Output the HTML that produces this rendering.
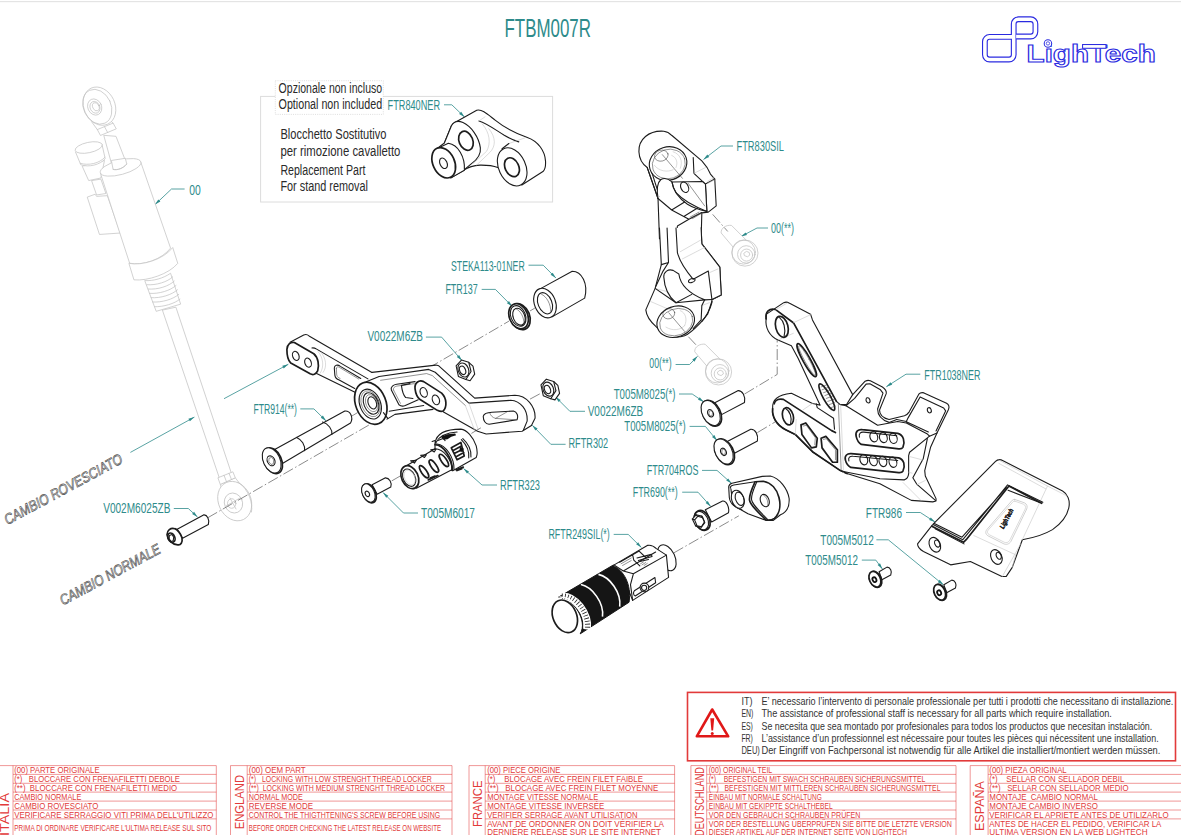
<!DOCTYPE html>
<html><head><meta charset="utf-8"><title>FTBM007R</title>
<style>
html,body{margin:0;padding:0;background:#fff;overflow:hidden}
body{width:1181px;height:835px;font-family:"Liberation Sans",sans-serif}
svg{display:block;font-family:"Liberation Sans",sans-serif}
.k{fill:none;stroke:#1c1c1c;stroke-width:1.1;stroke-linecap:round;stroke-linejoin:round}
.kw{fill:#fff;stroke:#1c1c1c;stroke-width:1.1;stroke-linecap:round;stroke-linejoin:round}
.t{fill:none;stroke:#3a3a3a;stroke-width:0.55;stroke-linecap:round;stroke-linejoin:round}
.tw{fill:#fff;stroke:#3a3a3a;stroke-width:0.55;stroke-linejoin:round}
.g{fill:none;stroke:#c2c2c2;stroke-width:0.75;stroke-linecap:round;stroke-linejoin:round}
.gw{fill:#fff;stroke:#c2c2c2;stroke-width:0.75;stroke-linejoin:round}
.ax{fill:none;stroke:#3c3c3c;stroke-width:0.6;stroke-dasharray:11 2.5 1.5 2.5}
.p *{vector-effect:non-scaling-stroke}
.k2{fill:none;stroke:#1c1c1c;stroke-width:1.7;stroke-linecap:round;stroke-linejoin:round}
.k2w{fill:#fff;stroke:#1c1c1c;stroke-width:1.7;stroke-linejoin:round}
.lg{fill:none;stroke:#c4c4c4;stroke-width:0.6;stroke-linecap:round}
</style></head>
<body>
<svg width="1181" height="835" viewBox="0 0 1181 835">
<rect x="0" y="1" width="1181" height="1.2" fill="#e4e4e4"/>
<text x="504.5" y="37.0" font-size="26.5" fill="#2e8b8b" textLength="86.5" lengthAdjust="spacingAndGlyphs" >FTBM007R</text>
<rect x="260.6" y="96.4" width="292" height="105.6" fill="none" stroke="#dcdcdc" stroke-width="1"/>
<rect x="275.3" y="80.7" width="108" height="33.7" fill="#fff" stroke="#c8c8c8" stroke-width="0.6" stroke-dasharray="1 1.2"/>
<text x="278.6" y="93.4" font-size="14" fill="#2a2a2a" textLength="103.5" lengthAdjust="spacingAndGlyphs" >Opzionale non incluso</text>
<text x="278.6" y="108.6" font-size="14" fill="#2a2a2a" textLength="103.5" lengthAdjust="spacingAndGlyphs" >Optional non included</text>
<text x="280.4" y="139.0" font-size="14" fill="#2a2a2a" textLength="106.0" lengthAdjust="spacingAndGlyphs" >Blocchetto Sostitutivo</text>
<text x="280.4" y="155.9" font-size="14" fill="#2a2a2a" textLength="120.0" lengthAdjust="spacingAndGlyphs" >per rimozione cavalletto</text>
<text x="280.4" y="175.4" font-size="14" fill="#2a2a2a" textLength="85.0" lengthAdjust="spacingAndGlyphs" >Replacement Part</text>
<text x="280.4" y="191.4" font-size="14" fill="#2a2a2a" textLength="87.6" lengthAdjust="spacingAndGlyphs" >For stand removal</text>
<text x="387.6" y="109.9" font-size="14" fill="#2e8b8b" textLength="52.4" lengthAdjust="spacingAndGlyphs" >FTR840NER</text>
<path d="M444.0 104.8H451.8L464.5 117.0" fill="none" stroke="#2e8b8b" stroke-width="0.8"/>
<path d="M464.5 117.0L459.1 113.9L461.2 111.8Z" fill="#2e8b8b"/>
<text x="189.3" y="194.6" font-size="14" fill="#2e8b8b" textLength="11.5" lengthAdjust="spacingAndGlyphs" >00</text>
<path d="M184.6 189.0H171.5L155.0 204.6" fill="none" stroke="#2e8b8b" stroke-width="0.8"/>
<path d="M155.0 204.6L158.3 199.4L160.4 201.6Z" fill="#2e8b8b"/>
<text x="736.5" y="151.0" font-size="14" fill="#2e8b8b" textLength="47.5" lengthAdjust="spacingAndGlyphs" >FTR830SIL</text>
<path d="M733.0 146.0H721.0L703.5 159.5" fill="none" stroke="#2e8b8b" stroke-width="0.8"/>
<path d="M703.5 159.5L707.3 154.6L709.2 157.0Z" fill="#2e8b8b"/>
<text x="771.0" y="233.0" font-size="14" fill="#2e8b8b" textLength="23.0" lengthAdjust="spacingAndGlyphs" >00(**)</text>
<path d="M768.0 228.0H757.0L741.0 236.5" fill="none" stroke="#2e8b8b" stroke-width="0.8"/>
<path d="M741.0 236.5L745.6 232.4L747.0 235.0Z" fill="#2e8b8b"/>
<text x="451.0" y="270.8" font-size="14" fill="#2e8b8b" textLength="73.7" lengthAdjust="spacingAndGlyphs" >STEKA113-01NER</text>
<path d="M528.5 265.2H543.2L555.9 278.0" fill="none" stroke="#2e8b8b" stroke-width="0.8"/>
<path d="M555.9 278.0L550.6 274.8L552.7 272.7Z" fill="#2e8b8b"/>
<text x="445.4" y="294.4" font-size="14" fill="#2e8b8b" textLength="32.3" lengthAdjust="spacingAndGlyphs" >FTR137</text>
<path d="M481.7 289.4H495.4L512.2 306.4" fill="none" stroke="#2e8b8b" stroke-width="0.8"/>
<path d="M512.2 306.4L506.9 303.2L509.0 301.1Z" fill="#2e8b8b"/>
<text x="367.4" y="341.4" font-size="14" fill="#2e8b8b" textLength="55.6" lengthAdjust="spacingAndGlyphs" >V0022M6ZB</text>
<path d="M425.9 337.1H441.6L461.9 360.5" fill="none" stroke="#2e8b8b" stroke-width="0.8"/>
<path d="M461.9 360.5L456.8 357.0L459.1 355.0Z" fill="#2e8b8b"/>
<text x="587.7" y="416.4" font-size="14" fill="#2e8b8b" textLength="55.6" lengthAdjust="spacingAndGlyphs" >V0022M6ZB</text>
<path d="M585.0 411.3H569.9L555.4 396.8" fill="none" stroke="#2e8b8b" stroke-width="0.8"/>
<path d="M555.4 396.8L560.7 400.0L558.6 402.1Z" fill="#2e8b8b"/>
<text x="568.5" y="448.3" font-size="14" fill="#2e8b8b" textLength="39.7" lengthAdjust="spacingAndGlyphs" >RFTR302</text>
<path d="M565.6 444.3H550.8L532.3 425.3" fill="none" stroke="#2e8b8b" stroke-width="0.8"/>
<path d="M532.3 425.3L537.6 428.6L535.4 430.6Z" fill="#2e8b8b"/>
<text x="649.3" y="367.7" font-size="14" fill="#2e8b8b" textLength="22.4" lengthAdjust="spacingAndGlyphs" >00(**)</text>
<path d="M675.6 364.5H689.6L697.5 356.3" fill="none" stroke="#2e8b8b" stroke-width="0.8"/>
<path d="M697.5 356.3L694.4 361.7L692.3 359.6Z" fill="#2e8b8b"/>
<text x="613.7" y="398.5" font-size="14" fill="#2e8b8b" textLength="61.9" lengthAdjust="spacingAndGlyphs" >T005M8025(*)</text>
<path d="M679.0 394.0H692.2L703.8 401.9" fill="none" stroke="#2e8b8b" stroke-width="0.8"/>
<path d="M703.8 401.9L698.0 399.8L699.7 397.3Z" fill="#2e8b8b"/>
<text x="624.3" y="430.9" font-size="14" fill="#2e8b8b" textLength="61.3" lengthAdjust="spacingAndGlyphs" >T005M8025(*)</text>
<path d="M689.6 426.4H705.4L717.0 440.6" fill="none" stroke="#2e8b8b" stroke-width="0.8"/>
<path d="M717.0 440.6L712.0 436.9L714.4 435.0Z" fill="#2e8b8b"/>
<text x="646.7" y="475.1" font-size="14" fill="#2e8b8b" textLength="51.8" lengthAdjust="spacingAndGlyphs" >FTR704ROS</text>
<path d="M702.0 470.4H717.0L731.7 483.5" fill="none" stroke="#2e8b8b" stroke-width="0.8"/>
<path d="M731.7 483.5L726.2 480.6L728.2 478.4Z" fill="#2e8b8b"/>
<text x="632.7" y="496.7" font-size="14" fill="#2e8b8b" textLength="45.0" lengthAdjust="spacingAndGlyphs" >FTR690(**)</text>
<path d="M682.2 492.2H698.0L710.7 506.4" fill="none" stroke="#2e8b8b" stroke-width="0.8"/>
<path d="M710.7 506.4L705.6 502.9L707.8 500.9Z" fill="#2e8b8b"/>
<text x="548.4" y="538.8" font-size="14" fill="#2e8b8b" textLength="61.4" lengthAdjust="spacingAndGlyphs" >RFTR249SIL(*)</text>
<path d="M613.7 534.4H628.2L641.4 547.5" fill="none" stroke="#2e8b8b" stroke-width="0.8"/>
<path d="M641.4 547.5L636.1 544.3L638.2 542.2Z" fill="#2e8b8b"/>
<text x="924.3" y="379.7" font-size="14" fill="#2e8b8b" textLength="56.1" lengthAdjust="spacingAndGlyphs" >FTR1038NER</text>
<path d="M920.3 374.2H906.0L886.3 386.8" fill="none" stroke="#2e8b8b" stroke-width="0.8"/>
<path d="M886.3 386.8L890.5 382.3L892.2 384.8Z" fill="#2e8b8b"/>
<text x="865.8" y="518.0" font-size="14" fill="#2e8b8b" textLength="36.2" lengthAdjust="spacingAndGlyphs" >FTR986</text>
<path d="M906.0 512.5H920.3L935.0 522.0" fill="none" stroke="#2e8b8b" stroke-width="0.8"/>
<path d="M935.0 522.0L929.1 520.0L930.8 517.5Z" fill="#2e8b8b"/>
<text x="820.3" y="545.0" font-size="14" fill="#2e8b8b" textLength="53.4" lengthAdjust="spacingAndGlyphs" >T005M5012</text>
<path d="M876.4 539.8H888.3L943.4 584.8" fill="none" stroke="#2e8b8b" stroke-width="0.8"/>
<path d="M943.4 584.8L937.8 582.2L939.7 579.8Z" fill="#2e8b8b"/>
<text x="805.3" y="564.7" font-size="14" fill="#2e8b8b" textLength="52.6" lengthAdjust="spacingAndGlyphs" >T005M5012</text>
<path d="M861.8 560.1H875.8L882.4 569.0" fill="none" stroke="#2e8b8b" stroke-width="0.8"/>
<path d="M882.4 569.0L877.6 565.1L880.0 563.3Z" fill="#2e8b8b"/>
<text x="253.4" y="413.7" font-size="14" fill="#2e8b8b" textLength="43.6" lengthAdjust="spacingAndGlyphs" >FTR914(**)</text>
<path d="M300.3 408.9H313.9L326.1 420.9" fill="none" stroke="#2e8b8b" stroke-width="0.8"/>
<path d="M326.1 420.9L320.8 417.8L322.9 415.6Z" fill="#2e8b8b"/>
<text x="103.2" y="513.0" font-size="14" fill="#2e8b8b" textLength="67.2" lengthAdjust="spacingAndGlyphs" >V002M6025ZB</text>
<path d="M173.8 508.5H188.3L197.5 517.0" fill="none" stroke="#2e8b8b" stroke-width="0.8"/>
<path d="M197.5 517.0L192.1 514.0L194.1 511.8Z" fill="#2e8b8b"/>
<text x="500.0" y="489.5" font-size="14" fill="#2e8b8b" textLength="40.0" lengthAdjust="spacingAndGlyphs" >RFTR323</text>
<path d="M497.0 485.0H482.0L463.5 468.5" fill="none" stroke="#2e8b8b" stroke-width="0.8"/>
<path d="M463.5 468.5L469.0 471.4L467.0 473.6Z" fill="#2e8b8b"/>
<text x="421.0" y="517.5" font-size="14" fill="#2e8b8b" textLength="54.0" lengthAdjust="spacingAndGlyphs" >T005M6017</text>
<path d="M418.0 513.0H403.5L383.0 492.5" fill="none" stroke="#2e8b8b" stroke-width="0.8"/>
<path d="M383.0 492.5L388.3 495.7L386.2 497.8Z" fill="#2e8b8b"/>
<path d="M130.4 452.4L194.4 417.1" fill="none" stroke="#2e8b8b" stroke-width="0.8"/>
<path d="M194.4 417.1L189.9 421.3L188.4 418.7Z" fill="#2e8b8b"/>
<path d="M224.0 398.7L288.3 364.3" fill="none" stroke="#2e8b8b" stroke-width="0.8"/>
<path d="M288.3 364.3L283.7 368.5L282.3 365.8Z" fill="#2e8b8b"/>
<text transform="translate(7.5 525.0) rotate(-28.4)" font-size="14.5" font-style="italic" fill="#fff" stroke="#555" stroke-width="0.7" textLength="132" lengthAdjust="spacingAndGlyphs">CAMBIO ROVESCIATO</text>
<text transform="translate(63.0 605.5) rotate(-28.3)" font-size="14.5" font-style="italic" fill="#fff" stroke="#555" stroke-width="0.7" textLength="112" lengthAdjust="spacingAndGlyphs">CAMBIO NORMALE</text>
<!-- 05_shock.svg -->
<g class="p" transform="translate(70 80) scale(0.14368)">
<!-- reservoir box & cylinder (behind) -->
<path class="gw" d="M120 815L175 795L185 810L260 805L350 1065L205 1075Z"/>
<path class="gw" d="M150 700L185 800L250 790L215 690Z"/>
<path class="gw" d="M85 600L130 700L215 682L240 560Z"/>
<path class="gw" d="M38 500L75 590C130 610 210 590 245 548L222 445Z"/>
<path class="g" d="M72 580C130 598 205 580 243 538"/>
<ellipse class="gw" cx="130" cy="470" rx="96" ry="36" transform="rotate(-12 130 470)"/>
<!-- upper rod -->
<path class="gw" d="M235 385L300 622L395 585L320 392Z"/>
<!-- main cylinder -->
<path class="gw" d="M212 650L415 1275C500 1295 640 1250 700 1170L492 570Z"/>
<ellipse class="gw" cx="352" cy="608" rx="146" ry="50" transform="rotate(-15 352 608)"/>
<path class="gw" d="M288 560L300 622C330 630 370 615 395 585L385 545Z" stroke="none"/>
<path class="g" d="M300 622C330 630 370 615 395 585"/>
<!-- collar -->
<path class="gw" d="M410 1276L445 1391C540 1400 690 1350 750 1276L715 1166C650 1250 500 1295 410 1276Z"/>
<!-- threads -->
<path class="gw" d="M520 1396L600 1610L770 1560L700 1345C650 1380 580 1400 520 1396Z"/>
<path class="g" d="M535 1425C600 1430 680 1405 715 1370M545 1455C610 1460 690 1435 725 1400M555 1485C620 1490 700 1465 738 1430M565 1515C630 1520 710 1495 748 1460M575 1545C640 1550 720 1525 757 1492M588 1578C650 1580 730 1556 765 1525"/>
<!-- eye -->
<path class="gw" d="M190 345L300 300L322 340L212 386Z"/>
<path class="g" d="M240 325L262 365M300 300L235 240M190 345L150 290"/>
<ellipse class="gw" cx="205" cy="182" rx="108" ry="138" transform="rotate(-25 205 182)"/>
<ellipse class="g" cx="190" cy="186" rx="96" ry="126" transform="rotate(-25 190 186)"/>
<ellipse class="g" cx="172" cy="188" rx="48" ry="58" transform="rotate(-25 172 188)"/>
<ellipse class="g" cx="174" cy="190" rx="34" ry="42" transform="rotate(-25 174 190)"/>
<ellipse class="g" cx="180" cy="186" rx="22" ry="30" transform="rotate(-25 180 186)"/>
</g>
<!-- long rod + lower eye (page coords) -->
<g>
<path class="gw" d="M162.4 310.1L219.7 479L231.7 474.2L175.9 307.2Z"/>
<path class="gw" d="M220.3 484.4L222.1 489.8L238.9 482.6L235.3 477.8Z"/>
<path class="gw" d="M217.9 477.8L232.9 471.8L235.3 477.8L220.3 484.4Z"/>
<path class="g" d="M224 475.3L226.5 481.7M229 473.3L231.5 479.5"/>
<ellipse class="gw" cx="234.7" cy="501.1" rx="16.2" ry="20.4" transform="rotate(-25 234.7 501.1)"/>
<path class="g" d="M238.9 482.6C249 490 253 503 251.5 512"/>
<ellipse class="g" cx="233.5" cy="503" rx="9" ry="10.2" transform="rotate(-25 233.5 503)"/>
<ellipse class="g" cx="231.7" cy="503.5" rx="4.2" ry="4.8"/>
<path class="g" d="M226 506L240 498M230 498L236 509"/>
</g>

<!-- 06_v002screw.svg -->
<g class="p" transform="translate(155 455) scale(0.11983)">
<path class="kw" d="M185 620L405 500C435 495 458 540 445 580L230 695Z"/>
<path class="k2w" d="M100 665C100 630 130 605 165 615C185 620 215 655 225 690C232 730 215 755 190 750C150 750 105 710 100 665Z"/>
<ellipse class="k2" cx="137" cy="690" rx="28" ry="40" transform="rotate(-25 137 690)"/>
<path class="k" d="M120 672l22-8l14 22l-4 30l-20 6l-14-22Z"/>
</g>

<!-- 10_ftr840.svg -->
<g class="p" transform="translate(425 105) scale(0.11007)">
<path class="kw" d="M288 150L470 48C520 35 570 85 640 140C720 205 820 255 930 295C1030 330 1090 420 1095 510C1098 560 1085 590 1075 602L880 727L662 568C620 552 570 545 500 546C430 550 400 560 352 592L176 345L240 188Z"/>
<path class="k" d="M490 145C560 165 640 225 720 275C780 310 820 325 852 335"/>
<path class="lg" d="M490 145L545 108M520 172C590 250 600 350 560 420L440 530M580 215C650 300 640 380 590 430L470 545M762 350L905 300"/>
<path class="k" d="M700 398L762 350"/>
<ellipse class="kw" cx="792" cy="562" rx="122" ry="182" transform="rotate(-25 792 562)"/>
<ellipse class="k2w" cx="790" cy="565" rx="62" ry="90" transform="rotate(-25 790 565)"/>
<path class="kw" d="M176 345L240 188C262 150 300 140 345 160C420 195 490 290 503 390C510 450 470 500 420 535L352 592L236 662L108 397Z"/>
<ellipse class="k2w" cx="372" cy="325" rx="62" ry="90" transform="rotate(-22 372 325)"/>
<path class="kw" d="M108 397L212 348C300 360 365 470 358 592L236 662Z"/>
<ellipse class="k2w" cx="170" cy="525" rx="98" ry="145" transform="rotate(-25 170 525)"/>
<ellipse class="k" cx="168" cy="530" rx="32" ry="50" transform="rotate(-25 168 530)"/>
</g>

<!-- 20_ftr830.svg -->
<g class="p" transform="translate(630 118) scale(0.14368)">
<!-- upper half -->
<path class="kw" d="M205 840L195 560L120 345C85 320 64 280 62 235C58 150 130 85 235 92C262 95 278 108 292 122L500 298C530 330 548 360 560 390L590 425L600 612L545 655L500 660L495 840"/>
<path class="k" d="M120 345L195 560M138 335L205 545"/>
<ellipse class="kw" cx="265" cy="317" rx="132" ry="116" transform="rotate(-18 265 317)"/>
<ellipse class="t" cx="270" cy="320" rx="116" ry="102" transform="rotate(-18 270 320)"/>
<ellipse class="t" cx="218" cy="262" rx="48" ry="38" transform="rotate(-15 218 262)"/>
<path class="lg" d="M300 235C350 250 370 300 350 350M290 260C325 275 335 310 320 345M170 330C200 370 260 380 300 360"/>
<path class="t" d="M225 255L365 420"/>
<path class="k" d="M440 275L445 385L525 460L590 425M525 460L535 650"/>
<path class="lg" d="M445 385L525 345M540 440L585 415M540 455L585 432"/>
<path class="kw" d="M195 560C185 500 190 450 215 428C240 415 270 425 292 445L505 442L525 460L535 650C470 625 380 585 320 520C305 495 295 470 292 445"/>
<path class="k" d="M292 445C300 500 340 560 400 600C440 625 490 640 535 650"/>
<ellipse class="k" cx="380" cy="482" rx="26" ry="38" transform="rotate(-25 380 482)"/>
<path class="t" d="M405 455L520 612"/>
<path class="k" d="M195 560L290 640L410 705L330 752L320 840M290 640L380 585M380 682L470 627M410 705L500 658"/>
<path class="t" d="M425 696L490 660M435 700L495 665M418 690L480 655"/>
</g>
<g class="p" transform="translate(630 228) scale(0.14368)">
<!-- lower half -->
<path class="kw" d="M205 0L218 255L175 420L110 570C115 620 150 660 185 690C230 740 300 775 380 750C420 735 470 680 500 650C530 620 560 560 570 520L570 500L635 467L625 272L500 110L495 0"/>
<path class="k" d="M258 0L268 240L230 300L180 405M218 255L268 240"/>
<path class="kw" d="M320 0L330 172C345 230 400 310 440 357L545 300L570 497L635 467L625 272L500 110L495 0"/>
<path class="lg" d="M350 165L490 85M365 215L520 135M550 312L612 285M170 420L250 440M140 510L290 575M500 540L552 520"/>
<path class="kw" d="M235 340C235 305 265 283 300 295L340 320C350 400 420 460 520 500L320 520C270 480 240 420 235 340Z"/>
<path class="k" d="M320 520L430 462M520 500L570 498M320 520L175 420"/>
<ellipse class="k" cx="430" cy="366" rx="24" ry="13" transform="rotate(-20 430 366)"/>
<path class="k" d="M520 500L500 540L495 640L440 700M570 510L540 600L500 650"/>
<ellipse class="kw" cx="318" cy="652" rx="134" ry="106" transform="rotate(-20 318 652)"/>
<ellipse class="t" cx="322" cy="655" rx="118" ry="92" transform="rotate(-20 322 655)"/>
<ellipse class="t" cx="270" cy="597" rx="42" ry="35" transform="rotate(-15 270 597)"/>
<path class="lg" d="M350 575C390 590 400 640 380 680M250 690C300 720 350 710 380 680"/>
<path class="t" d="M270 590L380 720"/>
</g>

<!-- 30_screws8025.svg -->
<g class="p" transform="translate(680 330) scale(0.16759)">
<!-- axis lines -->
<path class="ax" d="M385 382L580 265V0M462 612L640 505M50 40L125 120"/>
<!-- gray bolt 00(**) lower -->
<g id="gbolt">
<path class="gw" d="M160 215L88 130C85 100 120 80 150 85L245 180Z"/>
<circle class="gw" cx="230" cy="250" r="78"/>
<ellipse class="g" cx="222" cy="244" rx="70" ry="72"/>
<circle class="g" cx="238" cy="258" r="52"/><circle class="g" cx="240" cy="262" r="36"/>
<path class="g" d="M225 250l14-10l16 6l4 16l-14 10l-16-6Z"/>
</g>
<use href="#gbolt" transform="translate(157.5 -709)"/>
<path class="ax" d="M195 -690L285 -588"/>
<!-- screw 1 -->
<g id="s8025">
<path class="kw" d="M205 435L345 362C372 360 392 395 385 432L248 505Z"/>
<ellipse class="k2w" cx="189" cy="497" rx="52" ry="82" transform="rotate(-27 189 497)"/>
<ellipse class="kw" cx="183" cy="495" rx="50" ry="80" transform="rotate(-27 183 495)"/>
<ellipse class="k" cx="182" cy="497" rx="16" ry="23" transform="rotate(-27 182 497)"/>
<path class="t" d="M176 484l10-4l8 12l-2 18l-10 4l-8-12Z"/>
</g>
<use href="#s8025" transform="translate(77 230)"/>
</g>

<!-- 40_steka.svg -->
<g class="p" transform="translate(440 255) scale(0.19162)">
<path class="ax" d="M-60 590L360 345M470 292L495 277M470 752L522 724"/>
<!-- STEKA bushing -->
<path class="kw" d="M520 178L690 85C740 85 775 150 755 225L585 323Z"/>
<ellipse class="kw" cx="548" cy="251" rx="55" ry="80" transform="rotate(-22 548 251)"/>
<ellipse class="k" cx="548" cy="252" rx="36" ry="58" transform="rotate(-22 548 252)"/>
<path class="t" d="M530 205C555 215 580 255 578 300"/>
<!-- FTR137 ring -->
<ellipse class="k2w" cx="418" cy="322" rx="50" ry="70" transform="rotate(-22 418 322)"/>
<ellipse class="k2w" cx="410" cy="320" rx="48" ry="68" transform="rotate(-22 410 320)"/>
<ellipse class="k" cx="408" cy="318" rx="38" ry="56" transform="rotate(-22 408 318)"/>
<ellipse class="k" cx="412" cy="322" rx="30" ry="46" transform="rotate(-22 412 322)"/>
<path class="t" d="M395 280C420 290 440 325 438 360"/>
<!-- nuts -->
<g id="nut">
<path class="kw" d="M150 560L172 580L181 622L157 656L135 650Z"/>
<path class="kw" d="M84 578L112 548L150 560L162 608L135 650L96 634Z"/>
<ellipse class="k" cx="122" cy="600" rx="27" ry="38" transform="rotate(-22 122 600)"/>
<ellipse class="k" cx="118" cy="602" rx="15" ry="23" transform="rotate(-22 118 602)"/>
</g>
<use href="#nut" transform="translate(443 100)"/>
</g>

<!-- 50_rftr302.svg -->
<g class="p" transform="translate(280 325) scale(0.14368)">
<!-- silhouette fill -->
<path d="M70 120L165 70C180 63 193 68 202 76L640 330L1085 279L1105 284L1355 509L1635 489C1715 489 1780 569 1775 649L1750 699L1685 739L1435 759L1375 739L1135 604L1065 587L800 622L745 655L560 600L522 468L255 338L75 265Z" fill="#fff" stroke="none"/>
<!-- left arm -->
<path class="k" d="M70 120L165 70C180 63 193 68 202 76L640 330M222 160C235 158 245 162 255 168L612 375M255 338L522 468"/>
<path class="lg" d="M285 190C320 230 330 290 300 330M265 185C300 225 310 290 280 335"/>
<path class="k" d="M378 300C378 280 400 272 420 288L562 372M378 300L382 350C385 368 398 378 412 383L520 442"/>
<path class="t" d="M392 302C392 290 405 288 415 296L548 376M392 302L395 348C398 362 408 368 418 372"/>
<path class="k2w" d="M48 170C50 135 75 115 100 122L235 200C265 225 275 280 262 320C250 345 230 350 210 340L75 265C55 245 48 205 48 170Z"/>
<ellipse class="k" cx="110" cy="215" rx="22" ry="33" transform="rotate(-20 110 215)"/>
<ellipse class="k" cx="195" cy="262" rx="22" ry="33" transform="rotate(-20 195 262)"/>
<!-- central body + right arm -->
<path class="k" d="M640 330L1085 279L1105 284L1355 509L1635 489C1715 489 1780 569 1775 649L1750 699L1685 739L1435 759L1375 739L1135 604"/>
<path class="k" d="M600 395L690 358L1035 309L1080 329L1315 544L1605 524C1675 529 1725 589 1720 669L1695 729"/>
<path class="t" d="M700 385L1020 338L1060 352L1290 560"/>
<path class="lg" d="M1315 544L1380 729M1290 560L1355 735"/>
<path class="k" d="M745 655L800 622L1065 587M760 600L1000 560"/>
<!-- pocket -->
<path class="k" d="M775 452C768 430 790 415 812 412L940 394M775 452L828 555C840 565 860 565 872 560L962 520"/>
<path class="t" d="M790 452C785 438 798 428 815 425L935 408M790 452L838 545"/>
<path class="k" d="M845 420C850 460 860 490 875 505L925 512M845 420L905 408"/>
<!-- right slot -->
<path class="k" d="M1415 634C1420 614 1445 609 1475 607L1625 599C1650 604 1660 634 1650 659L1455 691C1430 689 1413 664 1415 634Z"/>
<path class="t" d="M1460 612C1465 630 1480 645 1500 650L1645 660M1500 650L1580 605"/>
<!-- central boss -->
<ellipse class="k2w" cx="632" cy="545" rx="105" ry="152" transform="rotate(-22 632 545)"/>
<ellipse class="k" cx="628" cy="550" rx="72" ry="108" transform="rotate(-22 628 550)"/>
<ellipse class="t" cx="630" cy="548" rx="62" ry="94" transform="rotate(-22 630 548)"/>
<ellipse class="k" cx="634" cy="546" rx="50" ry="78" transform="rotate(-22 634 546)"/>
<ellipse class="t" cx="638" cy="544" rx="40" ry="62" transform="rotate(-22 638 544)"/>
<ellipse class="k" cx="642" cy="542" rx="28" ry="44" transform="rotate(-22 642 542)"/>
<path class="k" d="M720 610L750 650"/>
<!-- stadium plate -->
<path class="k2w" d="M940 444C935 404 965 379 1000 394L1125 474C1160 509 1165 569 1135 599C1125 604 1110 601 1095 594L975 519C950 499 943 469 940 444Z"/>
<ellipse class="k" cx="1000" cy="469" rx="24" ry="35" transform="rotate(-20 1000 469)"/>
<ellipse class="k" cx="1085" cy="521" rx="24" ry="35" transform="rotate(-20 1085 521)"/>
</g>

<!-- 60_ftr914.svg -->
<g class="p" transform="translate(255 395) scale(0.14368)">
<path class="ax" d="M-330 855L800 205M668 150L715 122"/>
<!-- FTR914 -->
<path class="kw" d="M140 378L625 112C660 108 688 150 665 195L188 478Z"/>
<path class="k" d="M290 295C325 310 350 350 345 387M470 188C510 200 540 240 535 275"/>
<ellipse class="k2w" cx="124" cy="457" rx="60" ry="95" transform="rotate(-25 124 457)"/>
<ellipse class="kw" cx="116" cy="455" rx="58" ry="93" transform="rotate(-25 116 455)"/>
<ellipse class="k" cx="112" cy="458" rx="26" ry="36" transform="rotate(-25 112 458)"/>
<path class="t" d="M100 440l16-6l14 18l-2 26l-16 6l-14-18Z"/>
<!-- T005M6017 -->
<path class="kw" d="M815 625L905 577C935 575 955 610 945 640L850 690Z"/>
<ellipse class="k2w" cx="795" cy="684" rx="44" ry="70" transform="rotate(-25 795 684)"/>
<ellipse class="kw" cx="789" cy="682" rx="42" ry="68" transform="rotate(-25 789 682)"/>
<ellipse class="k" cx="782" cy="688" rx="14" ry="20" transform="rotate(-25 782 688)"/>
</g>

<!-- 70_rftr323.svg -->
<g class="p" transform="translate(390 420) scale(0.095785)">
<path class="ax" d="M18 636L115 580M850 140L960 75"/>
<!-- rear cylinder -->
<path class="kw" d="M470 240C485 140 590 95 740 95C800 100 870 180 900 270C915 330 910 370 900 392L655 530L470 420Z"/>
<path class="k" d="M760 195C810 240 850 310 845 385M745 205C790 250 830 320 822 395M480 235C520 160 600 130 700 125"/>
<path d="M535 175L600 150L680 140L690 160L640 175L600 200L555 205Z" fill="#111"/>
<path class="k" d="M500 215L560 190L575 215M440 225L470 215L480 245"/>
<!-- ribs inside -->
<path class="k2" d="M640 290L740 235M655 320L750 270M670 350L760 305M685 385L770 340M700 415L775 375M640 290L700 415M740 235L775 375"/>
<path d="M730 280l40 20l-15 35l-30-10Z" fill="#111"/>
<path class="k2" d="M690 520L765 492M700 528L750 508"/>
<!-- front body -->
<path class="kw" d="M150 490L470 300C560 300 650 420 645 520L275 712Z"/>
<path class="k2" d="M470 258C560 262 655 400 650 525"/>
<path class="k" d="M490 250C580 258 672 392 668 515"/>
<!-- slots -->
<ellipse class="k2" cx="355" cy="540" rx="27" ry="76" transform="rotate(-35 355 540)"/>
<ellipse class="k2" cx="458" cy="482" rx="27" ry="76" transform="rotate(-35 458 482)"/>
<ellipse class="k2" cx="563" cy="422" rx="27" ry="76" transform="rotate(-35 563 422)"/>
<path class="k" d="M215 425L275 420L255 450ZM320 368L380 362L360 392ZM425 310L480 304L462 334Z"/>
<path class="k2" d="M400 625L500 580M420 605L470 585"/>
<!-- front face -->
<ellipse class="k2w" cx="207" cy="597" rx="86" ry="126" transform="rotate(-25 207 597)"/>
<ellipse class="k" cx="200" cy="602" rx="62" ry="96" transform="rotate(-25 200 602)"/>
<ellipse class="lg" cx="205" cy="600" rx="52" ry="82" transform="rotate(-25 205 600)"/>
</g>

<!-- 80_rftr249.svg -->
<g class="p" transform="translate(545 535) scale(0.14368)">
<!-- rear flange -->
<ellipse class="kw" cx="848" cy="158" rx="56" ry="96" transform="rotate(-25 848 158)"/>
<!-- clevis block -->
<path class="kw" d="M470 215L715 72C740 68 760 80 775 95L845 140L860 295L610 455L560 330Z"/>
<path class="k" d="M615 270L845 140M615 270L595 345L610 455M480 208L545 250L615 270M545 250L770 118"/>
<path class="k" d="M520 190L610 138L618 175L660 215M610 138L655 112L705 160M640 160L740 135L745 150L650 178M660 185L720 170"/>
<path class="t" d="M530 200L600 160M540 212L600 178M665 200L685 188M675 208L700 192M690 212L712 198"/>
<path class="k" d="M622 388L765 296L770 332L628 424C615 420 612 400 622 388Z"/>
<circle class="kw" cx="692" cy="365" r="30"/><circle class="k" cx="690" cy="368" r="18"/>
<!-- knurled band -->
<path d="M95 432L470 212C545 240 605 345 585 468L245 688C300 600 200 440 95 432Z" fill="#151515" stroke="#151515" stroke-width="1"/>
<path d="M250 345C330 362 412 472 400 568" fill="none" stroke="#fff" stroke-width="1.6"/>
<path d="M372 274C452 292 532 402 520 498" fill="none" stroke="#fff" stroke-width="1.6"/>
<path d="M118 426C208 422 308 545 294 658" fill="none" stroke="#fff" stroke-width="7.5"/>
<path d="M118 426C208 422 308 545 294 658" fill="none" stroke="#222" stroke-width="5.6" stroke-dasharray="0.8 2.1"/>
<path d="M100 432C190 428 285 545 272 652" fill="none" stroke="#fff" stroke-width="1.6"/>
<!-- cap -->
<ellipse class="k2w" cx="138" cy="566" rx="82" ry="118" transform="rotate(-23 138 566)"/>
</g>

<!-- 90_ftr704.svg -->
<g class="p" transform="translate(685 465) scale(0.101605)">
<path class="ax" d="M-112 866L530 500M640 436L775 362"/>
<!-- FTR704ROS -->
<path class="kw" d="M430 215C432 195 445 185 462 180L760 112L840 108C930 130 1010 230 1025 330C1030 420 990 470 940 490L870 545L800 545L620 480L480 400C455 380 440 350 436 320Z"/>
<path class="k" d="M445 225C448 208 462 200 480 197L690 165M452 235L470 380C490 410 520 430 560 440"/>
<ellipse class="kw" cx="520" cy="337" rx="60" ry="92" transform="rotate(-20 520 337)"/>
<ellipse class="k" cx="538" cy="332" rx="40" ry="68" transform="rotate(-20 538 332)"/>
<path class="k2w" d="M690 165C660 230 630 290 635 345C640 390 700 450 800 542C830 545 860 540 880 525C930 480 945 400 925 320C905 240 850 175 770 160Z"/>
<path class="k" d="M705 170C680 230 650 290 655 340C660 385 720 440 812 535"/>
<ellipse class="k" cx="785" cy="350" rx="42" ry="63" transform="rotate(-20 785 350)"/>
<path class="t" d="M775 300C800 310 820 350 815 395"/>
<!-- FTR690 -->
<path class="kw" d="M200 440L370 355C405 350 440 410 428 470L262 560Z"/>
<ellipse class="k2w" cx="170" cy="545" rx="72" ry="102" transform="rotate(-25 170 545)"/>
<ellipse class="k" cx="160" cy="548" rx="66" ry="96" transform="rotate(-25 160 548)"/>
<path class="kw" d="M72 532L108 490L165 503L192 560L160 612L105 600Z"/>
<path class="k" d="M72 532L95 540L125 505L108 490M125 505L175 518L165 503M175 518L195 568L160 612M195 568L192 560M95 540L118 598L105 600M118 598L165 608"/>
</g>

<!-- 95_ftr1038.svg -->
<g class="p" transform="translate(755 295) scale(0.19157)">
<!-- silhouette -->
<path class="kw" d="M60 100L150 40C160 36 170 37 178 42L290 100L300 130L510 520L575 450C585 445 595 445 602 448L665 480C680 490 688 500 685 515L650 600C650 620 660 640 700 650L780 630C795 625 800 618 805 610L855 518C862 510 872 508 882 511L1000 565C1012 572 1015 585 1010 598L950 720L917 793L886 917L889 945L945 1063L945 1075L928 1080L816 1072L652 985L480 932L440 913L300 818L210 728L160 703C110 678 88 633 92 593C88 550 120 520 190 513L300 566L320 570L340 575L225 330L190 265L120 235C75 215 52 170 58 125Z"/>
<!-- upper arm -->
<path class="k2" d="M58 125C52 90 75 65 108 76L200 145L205 152L425 555"/>
<path class="lg" d="M200 145L292 102M110 76L168 42M120 235L200 200"/>
<ellipse class="k2" cx="140" cy="166" rx="32" ry="56" transform="rotate(-15 140 166)"/>
<path class="k" d="M128 118C150 135 162 175 152 215"/>
<ellipse class="k2" cx="270" cy="340" rx="19" ry="98" transform="rotate(-29 270 340)"/>
<ellipse class="t" cx="272" cy="342" rx="12" ry="88" transform="rotate(-29 272 342)"/>
<ellipse class="k2" cx="375" cy="533" rx="19" ry="78" transform="rotate(-29 375 533)"/>
<path class="t" d="M345 480L372 470M350 495L382 482M358 510L390 498M365 525L398 512M372 540L405 528M380 555L412 545M388 572L416 562M396 588L420 580"/>
<path class="k" d="M425 555L445 572L478 572L510 520"/>
<!-- tabs -->
<path class="k" d="M475 578L520 540L580 465L600 463L655 495L668 512L640 595C640 625 655 650 700 665L740 650"/>
<path class="k" d="M740 650L790 660L800 640L862 532L985 590L995 605L945 710M790 662L905 715M445 572L475 578L640 680L745 660L790 668L900 726L911 737"/>
<ellipse class="k" cx="590" cy="550" rx="10" ry="14" transform="rotate(-20 590 550)"/>
<ellipse class="k" cx="910" cy="602" rx="10" ry="14" transform="rotate(-20 910 602)"/>
<!-- lower arm -->
<path class="k2" d="M100 568C105 548 125 540 148 545L400 708L420 718"/>
<path class="k2" d="M92 593C88 633 110 678 160 703L210 728L300 818L440 913L480 932"/>
<ellipse class="k2" cx="172" cy="633" rx="28" ry="46" transform="rotate(-15 172 633)"/>
<path class="k" d="M160 592C182 605 195 640 186 672"/>
<path class="k" d="M320 568L325 588L410 643L415 700"/>
<path class="lg" d="M210 728L215 650M300 566L250 600"/>
<path class="k2" d="M240 678L265 668L325 748L320 793L295 798L245 728Z"/>
<path class="t" d="M252 684L268 680L315 745L312 782"/>
<path class="k2" d="M345 748L370 738L430 808L430 873L405 873L350 798Z"/>
<path class="t" d="M357 754L372 750L420 808L420 860"/>
<path class="t" d="M435 568L450 918"/><path class="lg" d="M447 574L462 926"/>
<!-- pockets -->
<path class="k2" d="M528 738C522 712 540 700 560 703L745 722C775 730 785 765 772 795C768 802 760 804 750 803L555 780C540 772 532 755 528 738Z"/>
<path class="k" d="M545 742C540 722 552 714 568 716L740 735"/>
<path class="k2" d="M472 862C466 838 482 826 502 828L750 850C778 858 786 892 772 920C768 926 760 928 750 927L500 900C484 892 476 878 472 862Z"/>
<path class="k" d="M490 866C485 848 496 840 512 842L745 864"/>
<g class="k"><ellipse cx="620" cy="740" rx="20" ry="27" transform="rotate(-15 620 740)"/><ellipse cx="670" cy="744" rx="20" ry="27" transform="rotate(-15 670 744)"/><ellipse cx="722" cy="748" rx="20" ry="27" transform="rotate(-15 722 748)"/>
<ellipse cx="568" cy="860" rx="20" ry="27" transform="rotate(-15 568 860)"/><ellipse cx="618" cy="865" rx="20" ry="27" transform="rotate(-15 618 865)"/><ellipse cx="668" cy="869" rx="20" ry="27" transform="rotate(-15 668 869)"/><ellipse cx="720" cy="873" rx="20" ry="27" transform="rotate(-15 720 873)"/></g>
<!-- right fold / spike -->
<path class="k" d="M911 737L807 821L802 838L802 934C800 950 790 962 779 965L652 959L455 920M900 748L878 855L824 954L844 987L942 1072M950 720L911 737"/>
<path class="lg" d="M810 844L875 861M844 990L889 968M773 979L866 1072M802 925L820 930"/>
</g>

<!-- 97_ftr986.svg -->
<g class="p" transform="translate(905 450) scale(0.167645)">
<path class="kw" d="M75 560L165 445L540 68C550 58 570 56 585 64L940 245C970 262 985 300 978 340C968 395 930 440 880 475C830 505 760 525 700 535L640 700L603 755L578 755L390 665L272 685L110 605C85 590 75 575 75 560Z"/>
<path class="lg" d="M560 60L850 215L700 535M850 215L962 272M410 510L660 625L640 700M580 755L690 560M560 80L840 232M165 445L190 470"/>
<path class="k2" d="M160 455L350 550L365 535L620 215L815 318"/>
<path class="k" d="M168 445L345 535L612 208L822 312M180 470L352 560M175 438L340 520L605 225"/>
<path class="k" d="M615 240L800 312"/>
<path class="g" d="M655 295L712 315C728 322 732 338 726 352L632 545C622 562 605 566 590 560L495 512C480 502 478 488 488 475L635 305C642 296 648 294 655 295Z"/>
<path class="lg" d="M655 305L706 323C718 328 722 340 717 352L625 538C617 552 604 556 592 550L502 505C490 497 489 488 496 478L640 314C645 307 650 304 655 305Z"/>
<text transform="translate(588 472) rotate(-62)" font-size="40" font-weight="bold" font-style="italic" fill="#111" stroke="#111" stroke-width="0.5" textLength="128" lengthAdjust="spacingAndGlyphs">LighTech</text>
<ellipse class="k" cx="178" cy="565" rx="32" ry="46" transform="rotate(-25 178 565)"/>
<ellipse class="k" cx="192" cy="558" rx="14" ry="22" transform="rotate(-25 192 558)"/>
<ellipse class="k" cx="545" cy="638" rx="32" ry="46" transform="rotate(-25 545 638)"/>
<ellipse class="k" cx="559" cy="631" rx="14" ry="22" transform="rotate(-25 559 631)"/>
</g>
<g class="p" transform="translate(860 555) scale(0.093145)">
<g id="s5012">
<path class="kw" d="M205 180L290 130C325 130 348 175 330 215L235 265Z"/>
<ellipse class="k2w" cx="168" cy="262" rx="60" ry="90" transform="rotate(-25 168 262)"/>
<ellipse class="k2w" cx="160" cy="260" rx="58" ry="88" transform="rotate(-25 160 260)"/>
<ellipse cx="155" cy="265" rx="20" ry="27" transform="rotate(-25 155 265)" fill="none" stroke="#111" stroke-width="1.8"/>
</g>
<use href="#s5012" transform="translate(695 140)"/>
</g>

<!-- 99_logo.svg -->
<g transform="translate(960 0) scale(0.18713)">
<g fill="none" stroke="#2a2ae0" stroke-width="31" stroke-linejoin="round">
<path d="M287 128V293a25 25 0 0 1 -25 25H158a25 25 0 0 1 -25 -25V222a25 25 0 0 1 25 -25H287"/>
<path d="M287 128a25 25 0 0 1 25 -25H378a25 25 0 0 1 25 25V170a25 25 0 0 1 -25 25H300"/>
</g>
<g fill="none" stroke="#fff" stroke-width="19" stroke-linejoin="round">
<path d="M287 128V293a25 25 0 0 1 -25 25H158a25 25 0 0 1 -25 -25V222a25 25 0 0 1 25 -25H287"/>
<path d="M287 128a25 25 0 0 1 25 -25H378a25 25 0 0 1 25 25V170a25 25 0 0 1 -25 25H300"/>
</g>
<text x="356" y="332" font-size="125" font-weight="bold" fill="#fff" stroke="#2a2ae0" stroke-width="5.5" textLength="690" lengthAdjust="spacingAndGlyphs">LighTech</text>
<rect x="655" y="238" width="125" height="20" fill="#fff" stroke="#2a2ae0" stroke-width="5.5"/>
<circle cx="470" cy="232" r="20" fill="#fff" stroke="#2a2ae0" stroke-width="5.5"/><circle cx="470" cy="232" r="9" fill="#fff" stroke="#2a2ae0" stroke-width="4"/>
</g>

<rect x="687.5" y="692.4" width="488" height="68.4" fill="#fff" stroke="#e23a3a" stroke-width="1.6"/>
<path d="M712.2 709.5L728.2 736.3H696.8Z" fill="none" stroke="#e01818" stroke-width="2.6" stroke-linejoin="round"/>
<path d="M710.3 718.3h3.9l-1.1 12.2h-1.7Z" fill="#e01818"/><circle cx="712.25" cy="733.4" r="1.5" fill="#e01818"/>
<text x="741.4" y="705.1" font-size="11.4" fill="#333" textLength="11.0" lengthAdjust="spacingAndGlyphs" >IT)</text>
<text x="761.5" y="705.1" font-size="11.4" fill="#333" textLength="411.9" lengthAdjust="spacingAndGlyphs" >E’ necessario l’intervento di personale professionale per tutti i prodotti che necessitano di installazione.</text>
<text x="741.4" y="717.2" font-size="11.4" fill="#333" textLength="12.0" lengthAdjust="spacingAndGlyphs" >EN)</text>
<text x="761.5" y="717.2" font-size="11.4" fill="#333" textLength="350.4" lengthAdjust="spacingAndGlyphs" >The assistance of professional staff is necessary for all parts which require installation.</text>
<text x="741.4" y="729.5" font-size="11.4" fill="#333" textLength="11.5" lengthAdjust="spacingAndGlyphs" >ES)</text>
<text x="761.5" y="729.5" font-size="11.4" fill="#333" textLength="390.7" lengthAdjust="spacingAndGlyphs" >Se necesita que sea montado por profesionales para todos los productos que necesitan instalación.</text>
<text x="741.4" y="742.2" font-size="11.4" fill="#333" textLength="11.5" lengthAdjust="spacingAndGlyphs" >FR)</text>
<text x="761.5" y="742.2" font-size="11.4" fill="#333" textLength="397.1" lengthAdjust="spacingAndGlyphs" >L’assistance d’un professionnel est nécessaire pour toutes les pièces qui nécessitent une installation.</text>
<text x="741.4" y="754.4" font-size="11.4" fill="#333" textLength="18.5" lengthAdjust="spacingAndGlyphs" >DEU)</text>
<text x="761.5" y="754.4" font-size="11.4" fill="#333" textLength="398.8" lengthAdjust="spacingAndGlyphs" >Der Eingriff von Fachpersonal ist notwendig  für alle Artikel die installiert/montiert werden müssen.</text>
<path d="M-4 765.6H216.3V840H-4Z M13 765.6V840" fill="none" stroke="#e23a3a" stroke-width="0.7" opacity="0.75"/>
<path d="M13 774.4H216.3M13 783.3H216.3M13 792.1H216.3M13 801.1H216.3M13 810.0H216.3M13 818.9H216.3" fill="none" stroke="#e23a3a" stroke-width="0.7" opacity="0.75"/>
<text transform="translate(8.8 836.0) rotate(-90)" font-size="13" fill="#e23a3a" textLength="43.0" lengthAdjust="spacingAndGlyphs">ITALIA</text>
<text x="14.2" y="772.9" font-size="8.9" fill="#e23a3a" textLength="85.4" lengthAdjust="spacingAndGlyphs" xml:space="preserve">(00) PARTE ORIGINALE</text>
<text x="14.2" y="782.0" font-size="8.9" fill="#e23a3a" textLength="165.8" lengthAdjust="spacingAndGlyphs" xml:space="preserve">(*)   BLOCCARE CON FRENAFILETTI DEBOLE</text>
<text x="14.2" y="790.9" font-size="8.9" fill="#e23a3a" textLength="163.0" lengthAdjust="spacingAndGlyphs" xml:space="preserve">(**)  BLOCCARE CON FRENAFILETTI MEDIO</text>
<text x="14.2" y="799.8" font-size="8.9" fill="#e23a3a" textLength="67.1" lengthAdjust="spacingAndGlyphs" xml:space="preserve">CAMBIO NORMALE</text>
<text x="14.2" y="808.7" font-size="8.9" fill="#e23a3a" textLength="84.2" lengthAdjust="spacingAndGlyphs" xml:space="preserve">CAMBIO ROVESCIATO</text>
<text x="14.2" y="817.7" font-size="8.9" fill="#e23a3a" textLength="199.2" lengthAdjust="spacingAndGlyphs" xml:space="preserve">VERIFICARE SERRAGGIO VITI PRIMA DELL'UTILIZZO</text>
<text x="14.2" y="830.6" font-size="8.6" fill="#e23a3a" textLength="197.2" lengthAdjust="spacingAndGlyphs" >PRIMA DI ORDINARE VERIFICARE L'ULTIMA RELEASE SUL SITO</text>
<path d="M230.5 765.6H452V840H230.5Z M247.2 765.6V840" fill="none" stroke="#e23a3a" stroke-width="0.7" opacity="0.75"/>
<path d="M247.2 774.4H452M247.2 783.3H452M247.2 792.1H452M247.2 801.1H452M247.2 810.0H452M247.2 818.9H452" fill="none" stroke="#e23a3a" stroke-width="0.7" opacity="0.75"/>
<text transform="translate(244.4 829.3) rotate(-90)" font-size="13" fill="#e23a3a" textLength="54.3" lengthAdjust="spacingAndGlyphs">ENGLAND</text>
<text x="248.8" y="772.9" font-size="8.9" fill="#e23a3a" textLength="56.9" lengthAdjust="spacingAndGlyphs" xml:space="preserve">(00) OEM PART</text>
<text x="248.8" y="782.0" font-size="8.9" fill="#e23a3a" textLength="182.9" lengthAdjust="spacingAndGlyphs" xml:space="preserve">(*)   LOCKING WITH LOW STRENGHT THREAD LOCKER</text>
<text x="248.8" y="790.9" font-size="8.9" fill="#e23a3a" textLength="196.3" lengthAdjust="spacingAndGlyphs" xml:space="preserve">(**)  LOCKING WITH MEDIUM STRENGHT THREAD LOCKER</text>
<text x="248.8" y="799.8" font-size="8.9" fill="#e23a3a" textLength="54.0" lengthAdjust="spacingAndGlyphs" xml:space="preserve">NORMAL MODE</text>
<text x="248.8" y="808.7" font-size="8.9" fill="#e23a3a" textLength="64.2" lengthAdjust="spacingAndGlyphs" xml:space="preserve">REVERSE MODE</text>
<text x="248.8" y="817.7" font-size="8.9" fill="#e23a3a" textLength="191.4" lengthAdjust="spacingAndGlyphs" xml:space="preserve">CONTROL THE THIGTHTENING'S SCREW BEFORE USING</text>
<text x="248.8" y="830.6" font-size="8.6" fill="#e23a3a" textLength="192.2" lengthAdjust="spacingAndGlyphs" >BEFORE ORDER CHECKING THE LATEST RELEASE ON WEBSITE</text>
<path d="M469 765.6H674.6V840H469Z M485.2 765.6V840" fill="none" stroke="#e23a3a" stroke-width="0.7" opacity="0.75"/>
<path d="M485.2 774.4H674.6M485.2 783.3H674.6M485.2 792.1H674.6M485.2 801.1H674.6M485.2 810.0H674.6M485.2 818.9H674.6" fill="none" stroke="#e23a3a" stroke-width="0.7" opacity="0.75"/>
<text transform="translate(482.1 827.0) rotate(-90)" font-size="13" fill="#e23a3a" textLength="46.5" lengthAdjust="spacingAndGlyphs">FRANCE</text>
<text x="487.2" y="772.9" font-size="8.9" fill="#e23a3a" textLength="73.2" lengthAdjust="spacingAndGlyphs" xml:space="preserve">(00) PIECE ORIGINE</text>
<text x="487.2" y="782.0" font-size="8.9" fill="#e23a3a" textLength="155.8" lengthAdjust="spacingAndGlyphs" xml:space="preserve">(*)    BLOCAGE AVEC FREIN FILET FAIBLE</text>
<text x="487.2" y="790.9" font-size="8.9" fill="#e23a3a" textLength="171.2" lengthAdjust="spacingAndGlyphs" xml:space="preserve">(**)   BLOCAGE AVEC FREIN FILET MOYENNE</text>
<text x="487.2" y="799.8" font-size="8.9" fill="#e23a3a" textLength="111.0" lengthAdjust="spacingAndGlyphs" xml:space="preserve">MONTAGE VITESSE NORMALE</text>
<text x="487.2" y="808.7" font-size="8.9" fill="#e23a3a" textLength="117.1" lengthAdjust="spacingAndGlyphs" xml:space="preserve">MONTAGE VITESSE INVERSÉE</text>
<text x="487.2" y="817.7" font-size="8.9" fill="#e23a3a" textLength="150.4" lengthAdjust="spacingAndGlyphs" xml:space="preserve">VERIFIER SERRAGE AVANT UTILISATION</text>
<text x="487.2" y="826.7" font-size="8.9" fill="#e23a3a" textLength="176.8" lengthAdjust="spacingAndGlyphs" >AVANT DE ORDONNER ON DOIT VÉRIFIER LA</text>
<text x="487.2" y="835.3" font-size="8.9" fill="#e23a3a" textLength="173.8" lengthAdjust="spacingAndGlyphs" >DERNIÉRE RELEASE SUR LE SITE INTERNET</text>
<path d="M690.9 765.6H956V840H690.9Z M706.7 765.6V840" fill="none" stroke="#e23a3a" stroke-width="0.7" opacity="0.75"/>
<path d="M706.7 774.4H956M706.7 783.3H956M706.7 792.1H956M706.7 801.1H956M706.7 810.0H956M706.7 818.9H956" fill="none" stroke="#e23a3a" stroke-width="0.7" opacity="0.75"/>
<text transform="translate(703.6 836.0) rotate(-90)" font-size="13" fill="#e23a3a" textLength="69.0" lengthAdjust="spacingAndGlyphs">DEUTSCHLAND</text>
<text x="708.8" y="772.9" font-size="8.9" fill="#e23a3a" textLength="63.4" lengthAdjust="spacingAndGlyphs" xml:space="preserve">(00) ORIGINAL TEIL</text>
<text x="708.8" y="782.0" font-size="8.9" fill="#e23a3a" textLength="216.6" lengthAdjust="spacingAndGlyphs" xml:space="preserve">(*)    BEFESTIGEN MIT SWACH SCHRAUBEN SICHERUNGSMITTEL</text>
<text x="708.8" y="790.9" font-size="8.9" fill="#e23a3a" textLength="231.7" lengthAdjust="spacingAndGlyphs" xml:space="preserve">(**)   BEFESTIGEN MIT MITTLEREN SCHRAUBEN SICHERUNGSMITTEL</text>
<text x="708.8" y="799.8" font-size="8.9" fill="#e23a3a" textLength="113.0" lengthAdjust="spacingAndGlyphs" xml:space="preserve">EINBAU MIT NORMALE SCHALTUNG</text>
<text x="708.8" y="808.7" font-size="8.9" fill="#e23a3a" textLength="124.0" lengthAdjust="spacingAndGlyphs" xml:space="preserve">EINBAU MIT GEKIPPTE SCHALTHEBEL</text>
<text x="708.8" y="817.7" font-size="8.9" fill="#e23a3a" textLength="151.6" lengthAdjust="spacingAndGlyphs" xml:space="preserve">VOR DEN GEBRAUCH SCHRAUBEN PRÜFEN</text>
<text x="708.8" y="826.7" font-size="8.9" fill="#e23a3a" textLength="243.2" lengthAdjust="spacingAndGlyphs" >VOR DER BESTELLUNG ÜBERPRÜFEN SIE BITTE DIE LETZTE VERSION</text>
<text x="708.8" y="835.3" font-size="8.9" fill="#e23a3a" textLength="198.2" lengthAdjust="spacingAndGlyphs" >DIESER ARTIKEL AUF DER INTERNET SEITE VON LIGHTECH</text>
<path d="M970.2 765.6H1190V840H970.2Z M988.1 765.6V840" fill="none" stroke="#e23a3a" stroke-width="0.7" opacity="0.75"/>
<path d="M988.1 774.4H1190M988.1 783.3H1190M988.1 792.1H1190M988.1 801.1H1190M988.1 810.0H1190M988.1 818.9H1190" fill="none" stroke="#e23a3a" stroke-width="0.7" opacity="0.75"/>
<text transform="translate(984.4 831.0) rotate(-90)" font-size="13" fill="#e23a3a" textLength="50.0" lengthAdjust="spacingAndGlyphs">ESPAÑA</text>
<text x="989.3" y="772.9" font-size="8.9" fill="#e23a3a" textLength="77.4" lengthAdjust="spacingAndGlyphs" xml:space="preserve">(00) PIEZA ORIGINAL</text>
<text x="989.3" y="782.0" font-size="8.9" fill="#e23a3a" textLength="135.0" lengthAdjust="spacingAndGlyphs" xml:space="preserve">(*)    SELLAR CON SELLADOR DEBIL</text>
<text x="989.3" y="790.9" font-size="8.9" fill="#e23a3a" textLength="139.3" lengthAdjust="spacingAndGlyphs" xml:space="preserve">(**)   SELLAR CON SELLADOR MEDIO</text>
<text x="989.3" y="799.8" font-size="8.9" fill="#e23a3a" textLength="108.7" lengthAdjust="spacingAndGlyphs" xml:space="preserve">MONTAJE  CAMBIO NORMAL</text>
<text x="989.3" y="808.7" font-size="8.9" fill="#e23a3a" textLength="108.7" lengthAdjust="spacingAndGlyphs" xml:space="preserve">MONTAJE CAMBIO INVERSO</text>
<text x="989.3" y="817.7" font-size="8.9" fill="#e23a3a" textLength="179.3" lengthAdjust="spacingAndGlyphs" xml:space="preserve">VERIFICAR EL APRIETE ANTES DE UTILIZARLO</text>
<text x="989.3" y="826.7" font-size="8.9" fill="#e23a3a" textLength="172.1" lengthAdjust="spacingAndGlyphs" >ANTES DE HACER EL PEDIDO, VERIFICAR LA</text>
<text x="989.3" y="835.3" font-size="8.9" fill="#e23a3a" textLength="158.3" lengthAdjust="spacingAndGlyphs" >ULTIMA VERSION EN LA WEB LIGHTECH</text>
</svg>
</body></html>
